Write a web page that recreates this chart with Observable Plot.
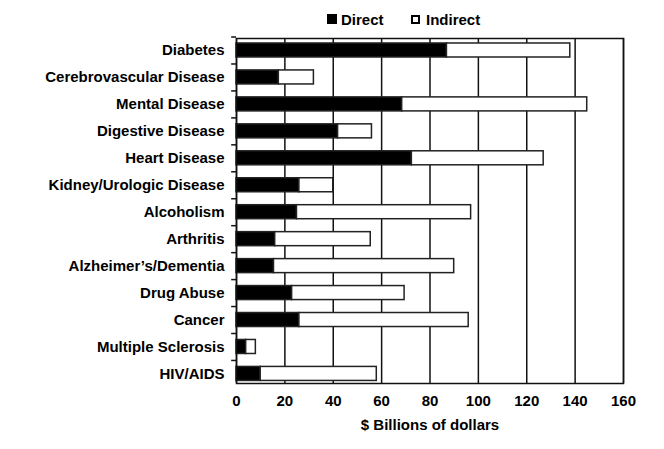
<!DOCTYPE html>
<html>
<head>
<meta charset="utf-8">
<script src="https://cdn.jsdelivr.net/npm/d3@7"></script>
<script src="https://cdn.jsdelivr.net/npm/@observablehq/plot@0.6"></script>
<style>
  body { margin: 0; background: #fff; }
  #wrap { width: 664px; font-family: "Liberation Sans", Arial, sans-serif; font-weight: bold; }
  #legend { position: relative; height: 28px; font-size: 15px; color: #000; }
  #legend .sq { position: absolute; box-sizing: border-box; }
  #legend .lab { position: absolute; top: 11px; line-height: 17px; }
</style>
</head>
<body>
<div id="wrap">
  <div id="legend"></div>
  <div id="chart"></div>
</div>
<script>
const categories = [
  "Diabetes", "Cerebrovascular Disease", "Mental Disease", "Digestive Disease",
  "Heart Disease", "Kidney/Urologic Disease", "Alcoholism", "Arthritis",
  "Alzheimer\u2019s/Dementia", "Drug Abuse", "Cancer", "Multiple Sclerosis", "HIV/AIDS"
];
const direct   = [87, 17.5, 68.5, 42, 72.5, 26, 25, 16, 15.5, 23, 26, 4, 10];
const indirect = [51, 14.5, 76.5, 14, 54.5, 14, 72, 39.5, 74.5, 46.5, 70, 4, 48];
const series = ["Direct", "Indirect"];
const xTicks = [0, 20, 40, 60, 80, 100, 120, 140, 160];
const xLabel = "$ Billions of dollars";

const rows = categories.flatMap((c, i) => [
  {cat: c, type: series[0], value: direct[i]},
  {cat: c, type: series[1], value: indirect[i]}
]);

// legend
const legend = document.getElementById("legend");
legend.innerHTML = `
  <span class="sq" style="left:327px;top:14px;width:10px;height:10px;background:#000"></span>
  <span class="lab" style="left:341px">${series[0]}</span>
  <span class="sq" style="left:411px;top:15px;width:9px;height:9px;border:2px solid #000;background:#fff"></span>
  <span class="lab" style="left:426px">${series[1]}</span>`;

const chart = Plot.plot({
  width: 664,
  height: 421,
  marginTop: 10,
  marginBottom: 66,
  marginLeft: 236,
  marginRight: 41,
  style: {fontFamily: "'Liberation Sans', Arial, sans-serif", fontSize: "15px", fontWeight: "bold", color: "#000", background: "#fff"},
  x: {domain: [0, 160], ticks: xTicks, label: null},
  y: {domain: categories, paddingInner: 0.48, paddingOuter: 0.14, align: 0.66, round: false, label: null},
  color: {domain: series, range: ["#000", "#fff"]},
  marks: [
    Plot.gridX({ticks: xTicks, stroke: "#111", strokeOpacity: 1, strokeWidth: 1.5}),
    Plot.barX(rows, {x: "value", y: "cat", fill: "type", stroke: "#222", strokeWidth: 1.5}),
    Plot.frame({stroke: "#111", strokeWidth: 1.5}),
    Plot.ruleY(categories, {y: d => d, dy: -13.47, x1: -2, x2: 0, stroke: "#111", strokeWidth: 1.5}),
    Plot.axisX({ticks: xTicks, tickSize: 0, tickPadding: 12, label: null}),
    Plot.axisY({tickSize: 0, tickPadding: 12, label: null}),
    Plot.text([xLabel], {text: d => d, frameAnchor: "bottom", dy: 46, fontSize: 15, fontWeight: "bold"})
  ]
});
document.getElementById("chart").appendChild(chart);
</script>
</body>
</html>
